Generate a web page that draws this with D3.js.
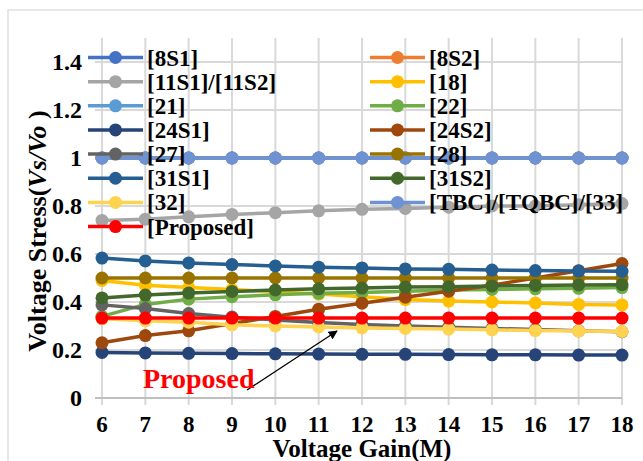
<!DOCTYPE html>
<html>
<head>
<meta charset="utf-8">
<script src="https://cdn.jsdelivr.net/npm/d3@7"></script>
<style>
  body { margin: 0; background: #fff; }
  text { font-family: "Liberation Serif", "Times New Roman", serif; font-weight: bold; }
</style>
</head>
<body>
<div id="chart"></div>
<script>
var gains = [6, 7, 8, 9, 10, 11, 12, 13, 14, 15, 16, 17, 18];
var yTicks = [0, 0.2, 0.4, 0.6, 0.8, 1, 1.2, 1.4];

// one array per converter, in legend order
var s8S1 = [1, 1, 1, 1, 1, 1, 1, 1, 1, 1, 1, 1, 1];
var s8S2 = [1, 1, 1, 1, 1, 1, 1, 1, 1, 1, 1, 1, 1];
var s11 = [0.74, 0.745, 0.755, 0.765, 0.772, 0.78, 0.786, 0.79, 0.795, 0.80, 0.80, 0.805, 0.81];
var s18 = [0.49, 0.47, 0.46, 0.452, 0.443, 0.433, 0.422, 0.41, 0.404, 0.40, 0.396, 0.39, 0.388];
var s21 = [1, 1, 1, 1, 1, 1, 1, 1, 1, 1, 1, 1, 1];
var s22 = [0.34, 0.39, 0.412, 0.422, 0.43, 0.436, 0.44, 0.445, 0.45, 0.452, 0.455, 0.457, 0.46];
var s24S1 = [0.19, 0.188, 0.186, 0.185, 0.184, 0.183, 0.182, 0.182, 0.181, 0.18, 0.18, 0.179, 0.179];
var s24S2 = [0.23, 0.26, 0.28, 0.31, 0.34, 0.37, 0.395, 0.42, 0.445, 0.47, 0.50, 0.53, 0.56];
var s27 = [0.388, 0.373, 0.352, 0.337, 0.325, 0.315, 0.306, 0.30, 0.295, 0.29, 0.285, 0.28, 0.276];
var s28 = [0.5, 0.5, 0.5, 0.5, 0.5, 0.5, 0.5, 0.5, 0.5, 0.5, 0.5, 0.5, 0.5];
var s31S1 = [0.583, 0.571, 0.563, 0.556, 0.55, 0.545, 0.542, 0.538, 0.536, 0.533, 0.531, 0.529, 0.528];
var s31S2 = [0.417, 0.429, 0.437, 0.444, 0.45, 0.455, 0.458, 0.462, 0.464, 0.467, 0.469, 0.471, 0.472];
var s32 = [0.33, 0.322, 0.316, 0.305, 0.30, 0.296, 0.292, 0.29, 0.287, 0.284, 0.281, 0.279, 0.277];
var sTBC = [1, 1, 1, 1, 1, 1, 1, 1, 1, 1, 1, 1, 1];
var sProposed = [0.333, 0.333, 0.333, 0.333, 0.333, 0.333, 0.333, 0.333, 0.333, 0.333, 0.333, 0.333, 0.333];

var series = [
  {name: "[8S1]", color: "#4472C4", values: s8S1},
  {name: "[8S2]", color: "#ED7D31", values: s8S2},
  {name: "[11S1]/[11S2]", color: "#A5A5A5", values: s11},
  {name: "[18]", color: "#FFC000", values: s18},
  {name: "[21]", color: "#5B9BD5", values: s21},
  {name: "[22]", color: "#70AD47", values: s22},
  {name: "[24S1]", color: "#264478", values: s24S1},
  {name: "[24S2]", color: "#9E480E", values: s24S2},
  {name: "[27]", color: "#636363", values: s27},
  {name: "[28]", color: "#997300", values: s28},
  {name: "[31S1]", color: "#255E91", values: s31S1},
  {name: "[31S2]", color: "#43682B", values: s31S2},
  {name: "[32]", color: "#FFD34F", values: s32},
  {name: "[TBC]/[TQBC]/[33]", color: "#6F92D2", values: sTBC},
  {name: "[Proposed]", color: "#FF0000", values: sProposed}
];

var W = 643, H = 461;
var svg = d3.select("#chart").append("svg")
    .attr("width", W)
    .attr("height", H);

// chart border
svg.append("rect")
    .attr("x", 8).attr("y", 10)
    .attr("width", 640).attr("height", 470)
    .attr("fill", "none")
    .attr("stroke", "#D9D9D9")
    .attr("stroke-width", 1.2);

var x = d3.scaleLinear().domain([6, 18]).range([102, 622]);
var y = d3.scaleLinear().domain([0, 1.5]).range([398, 38]);

// grid
svg.append("g").selectAll("line")
    .data(gains)
    .enter().append("line")
    .attr("x1", function(d) { return x(d); })
    .attr("x2", function(d) { return x(d); })
    .attr("y1", y(1.5))
    .attr("y2", 405)
    .attr("stroke", "#D9D9D9")
    .attr("stroke-width", 2);

svg.append("g").selectAll("line")
    .data(yTicks)
    .enter().append("line")
    .attr("x1", 95)
    .attr("x2", x(18))
    .attr("y1", function(d) { return y(d); })
    .attr("y2", function(d) { return y(d); })
    .attr("stroke", function(d) { return d === 0 ? "#BFBFBF" : "#D9D9D9"; })
    .attr("stroke-width", 2);

// tick labels
svg.append("g").selectAll("text")
    .data(yTicks)
    .enter().append("text")
    .attr("x", 82)
    .attr("y", function(d) { return y(d); })
    .attr("dy", "0.35em")
    .attr("text-anchor", "end")
    .style("font-size", "24px")
    .text(function(d) { return d3.format("~g")(d); });

svg.append("g").selectAll("text")
    .data(gains)
    .enter().append("text")
    .attr("x", function(d) { return x(d); })
    .attr("y", 432)
    .attr("text-anchor", "middle")
    .style("font-size", "23px")
    .text(function(d) { return d; });

// axis titles
svg.append("text")
    .attr("x", 362)
    .attr("y", 457)
    .attr("text-anchor", "middle")
    .style("font-size", "25px")
    .text("Voltage Gain(M)");

var yt = svg.append("text")
    .attr("transform", "translate(46,231) rotate(-90)")
    .attr("text-anchor", "middle")
    .style("font-size", "26px");
yt.append("tspan").text("Voltage Stress(");
yt.append("tspan").style("font-style", "italic").text("Vs/Vo");
yt.append("tspan").text(" )");

// data lines
var line = d3.line()
    .x(function(d, i) { return x(gains[i]); })
    .y(function(d) { return y(d); });

var g = svg.append("g");
series.forEach(function(s) {
  var sg = g.append("g");
  sg.append("path")
      .attr("d", line(s.values))
      .attr("fill", "none")
      .attr("stroke", s.color)
      .attr("stroke-width", 3.5);
  sg.selectAll("circle")
      .data(s.values)
      .enter().append("circle")
      .attr("cx", function(d, i) { return x(gains[i]); })
      .attr("cy", function(d) { return y(d); })
      .attr("r", 6.5)
      .attr("fill", s.color);
});

// legend, two columns filled row by row
var legend = svg.append("g");
series.forEach(function(s, i) {
  var col = i % 2, row = Math.floor(i / 2);
  var lx = col === 0 ? 88 : 370;
  var ly = 57.5 + row * 24.15;
  var item = legend.append("g").attr("transform", "translate(" + lx + "," + ly + ")");
  item.append("line")
      .attr("x1", 0).attr("x2", 55)
      .attr("stroke", s.color)
      .attr("stroke-width", 3.5);
  item.append("circle")
      .attr("cx", 27.5)
      .attr("r", 6.5)
      .attr("fill", s.color);
  item.append("text")
      .attr("x", 59)
      .attr("dy", "0.35em")
      .style("font-size", "23px")
      .text(s.name);
});

// annotation
svg.append("defs").append("marker")
    .attr("id", "arrow")
    .attr("viewBox", "0 0 10 10")
    .attr("refX", 9).attr("refY", 5)
    .attr("markerWidth", 7).attr("markerHeight", 7)
    .attr("orient", "auto")
    .append("path")
    .attr("d", "M0,0 L10,5 L0,10 z")
    .attr("fill", "#000");

svg.append("line")
    .attr("x1", 247).attr("y1", 390)
    .attr("x2", 337).attr("y2", 331)
    .attr("stroke", "#000")
    .attr("stroke-width", 1.3)
    .attr("marker-end", "url(#arrow)");

svg.append("text")
    .attr("x", 143)
    .attr("y", 388)
    .attr("fill", "#FF0000")
    .style("font-size", "28px")
    .text("Proposed");
</script>
</body>
</html>
